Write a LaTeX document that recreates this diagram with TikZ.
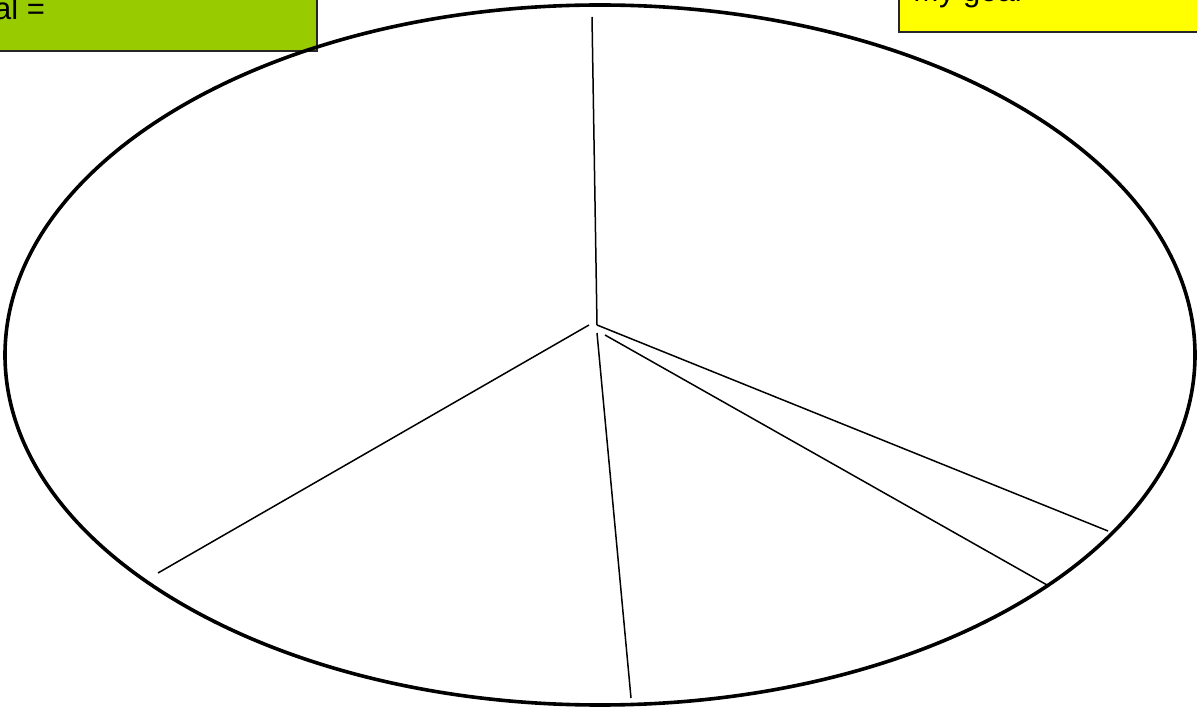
\documentclass[tikz,border=0pt]{standalone}
\usepackage{fontspec}
\setmainfont{Liberation Sans}
\begin{document}
\begin{tikzpicture}[x=1pt,y=-1pt,
  ring/.style={line width=3.6pt},
  spoke/.style={line width=1.5pt},
  boxlbl/.style={draw=black!85, line width=1.2pt},
  lbl/.style={font=\fontsize{31}{36}\selectfont, inner sep=0pt, anchor=base west}]
\useasboundingbox (0,0) rectangle (1197,708);
\clip (0,0) rectangle (1197,708);
\fill[white] (0,0) rectangle (1197,708);
% boxes
\path[boxlbl, fill={rgb,255:red,153;green,204;blue,0}] (-5,-20) rectangle (317,51);
\node[lbl] (total) at (-6,20) {al =};
\path[boxlbl, fill={rgb,255:red,255;green,255;blue,0}] (899,-20) rectangle (1210,32);
\node[lbl] (goal) at (913,2) {My goal};
% ellipse
\draw[ring] (600,355) ellipse [x radius=595pt, y radius=350pt];
% spoke end points
\coordinate (top) at (592,17);
\coordinate (c1) at (597,325);
\coordinate (c2) at (589,325);
\coordinate (c3) at (597,333);
\coordinate (c4) at (605,335);
\coordinate (ll) at (158,573);
\coordinate (bot) at (631,698);
\coordinate (rr) at (1108,531);
\coordinate (rb) at (1047,585);
\draw[spoke] (top) -- (c1);
\draw[spoke] (c2) -- (ll);
\draw[spoke] (c3) -- (bot);
\draw[spoke] (c1) -- (rr);
\draw[spoke] (c4) -- (rb);
\end{tikzpicture}
\end{document}
